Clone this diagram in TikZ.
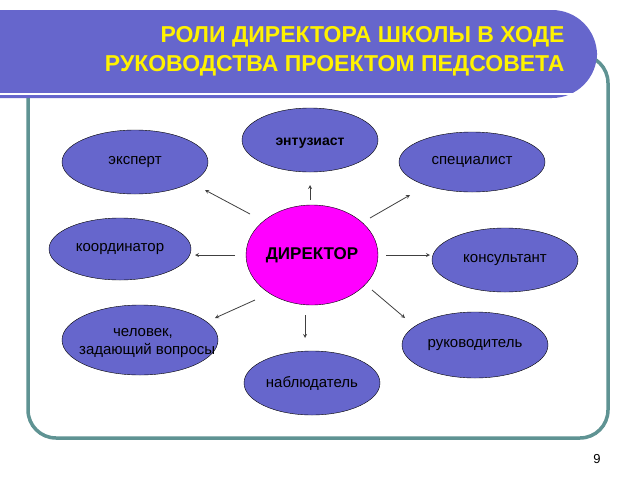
\documentclass[tikz,border=0pt]{standalone}
\usepackage{fontspec}
\setmainfont{Liberation Sans}
\begin{document}
\begin{tikzpicture}[x=1pt,y=-1pt,
  role/.style={ellipse,draw=black,fill=blueP,inner sep=0pt,font=\fontsize{15}{18}\selectfont,text=black},
  arr/.style={-stealth,thick,draw=black!75}]
\usetikzlibrary{shapes.geometric}
\definecolor{blueP}{HTML}{6666CC}
\definecolor{frameC}{HTML}{5F9393}
\definecolor{magP}{HTML}{FF00FF}
\useasboundingbox (0,0) rectangle (640,480);
\fill[white] (0,0) rectangle (640,480);
\draw[frameC,line width=3.5pt,rounded corners=28pt] (28,55) rectangle (608,438);
\fill[blueP,rounded corners=45pt] (-60,10) rectangle (597,98);
\fill[blueP] (0,10) rectangle (100,98);
\draw[white,line width=2pt] (0,94) -- (578,94);
\node[anchor=east,text=yellow,font=\bfseries\fontsize{23}{29}\selectfont,align=right] (title) at (568,51) {РОЛИ ДИРЕКТОРА ШКОЛЫ В ХОДЕ\\РУКОВОДСТВА ПРОЕКТОМ ПЕДСОВЕТА};
\node[role,minimum width=136pt,minimum height=64pt] (ent) at (310,140) {};
\node[font=\bfseries\fontsize{14}{16}\selectfont] (entt) at (310,143) {энтузиаст};
\node[role,minimum width=146pt,minimum height=64pt] (exp) at (135,162) {эксперт};
\node[role,minimum width=146pt,minimum height=60pt] (spec) at (472,162) {специалист};
\node[ellipse,draw=black,fill=magP,inner sep=0pt,minimum width=132pt,minimum height=100pt,font=\bfseries\fontsize{17}{20}\selectfont] (dir) at (312,255) {ДИРЕКТОР};
\node[role,minimum width=142pt,minimum height=62pt] (koord) at (120,249) {\raisebox{3pt}{координатор}};
\node[role,minimum width=146pt,minimum height=64pt] (kons) at (505,260) {\raisebox{-3pt}{консультант}};
\node[role,minimum width=156pt,minimum height=70pt] (chel) at (140,340) {};
\node[align=center,font=\fontsize{15}{18}\selectfont] (chelt) at (143,343) {человек,\\\ \ задающий вопросы};
\node[role,minimum width=146pt,minimum height=66pt] (ruk) at (475,345) {руководитель};
\node[role,minimum width=136pt,minimum height=64pt] (nab) at (312,383) {наблюдатель};
\node[font=\fontsize{13}{15}\selectfont] (num) at (597,459) {9};
\coordinate (a1) at (310,200); \coordinate (b1) at (310,185);
\coordinate (a2) at (250,214); \coordinate (b2) at (205,190);
\coordinate (a3) at (370,218); \coordinate (b3) at (410,195);
\coordinate (a4) at (235,255); \coordinate (b4) at (195,255);
\coordinate (a5) at (386,255); \coordinate (b5) at (430,255);
\coordinate (a6) at (255,300); \coordinate (b6) at (215,318);
\coordinate (a7) at (305,315); \coordinate (b7) at (305,338);
\coordinate (a8) at (372,290); \coordinate (b8) at (405,318);
\foreach \i in {1,...,8} \draw[arr] (a\i) -- (b\i);
\end{tikzpicture}
\end{document}
